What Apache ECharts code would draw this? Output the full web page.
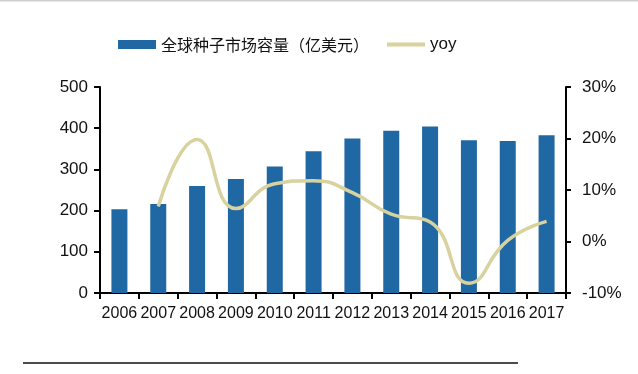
<!DOCTYPE html>
<html><head><meta charset="utf-8">
<script src="https://cdn.jsdelivr.net/npm/echarts@6/dist/echarts.min.js"></script>
<style>html,body{margin:0;padding:0;background:#fff}#c{width:638px;height:374px}</style>
</head><body><div id="c"></div>
<script>
const years = ['2006','2007','2008','2009','2010','2011','2012','2013','2014','2015','2016','2017'];
const marketSize = [203, 216, 260, 277, 307, 344, 375, 394, 404, 371, 369, 383];
const yoy = [null, 6.8, 19.8, 6.4, 11.2, 11.8, 9.5, 5.3, 3.8, -8.1, 0.2, 3.9];
const leftTicks = [0, 100, 200, 300, 400, 500];
const rightTicks = [-10, 0, 10, 20, 30];

const chart = echarts.init(document.getElementById('c'));
const fontAxis = '"Liberation Sans Narrow", "Liberation Sans", Arial, sans-serif';
chart.setOption({
  backgroundColor: '#fff',
  animation: false,
  legend: {
    top: 31, left: 113,
    itemWidth: 38, itemHeight: 9, itemGap: 18,
    textStyle: { fontSize: 16, color: '#111', fontFamily: '"Noto Sans CJK SC", sans-serif' },
    data: [
      { name: '全球种子市场容量（亿美元）', icon: 'rect' },
      { name: 'yoy', icon: 'path://M0,0 L40,0 L40,4 L0,4 Z', textStyle: { fontFamily: fontAxis, fontSize: 17 } }
    ]
  },
  grid: { left: 100, right: 72, top: 87, bottom: 81 },
  xAxis: {
    type: 'category', data: years,
    axisLine: { lineStyle: { color: '#000', width: 2 } },
    axisTick: { show: true, length: 6, lineStyle: { color: '#000', width: 2 } },
    axisLabel: { color: '#111', fontSize: 16, fontFamily: fontAxis, margin: 13, interval: 0 }
  },
  yAxis: [
    {
      type: 'value', min: 0, max: 500, interval: 100,
      splitLine: { show: false },
      axisLine: { show: true, lineStyle: { color: '#000', width: 2 } },
      axisTick: { show: true, length: 6, lineStyle: { color: '#000', width: 2 } },
      axisLabel: { color: '#111', fontSize: 17, fontFamily: fontAxis, margin: 12,
        formatter: v => leftTicks.includes(v) ? String(v) : '' }
    },
    {
      type: 'value', min: -10, max: 30, interval: 10,
      splitLine: { show: false },
      axisLine: { show: true, lineStyle: { color: '#000', width: 2 } },
      axisTick: { show: true, length: 5, lineStyle: { color: '#000', width: 2 } },
      axisLabel: { color: '#111', fontSize: 17, fontFamily: fontAxis, margin: 16,
        formatter: v => rightTicks.includes(v) ? v + '%' : '' }
    }
  ],
  series: [
    {
      name: '全球种子市场容量（亿美元）', type: 'bar', data: marketSize,
      barWidth: 16, itemStyle: { color: '#2068a3' }
    },
    {
      name: 'yoy', type: 'line', yAxisIndex: 1, data: yoy,
      smooth: 0.5, symbol: 'none',
      lineStyle: { color: '#d8d29e', width: 3.5 },
      itemStyle: { color: '#d8d29e' }
    }
  ],
  graphic: [
    { type: 'line', shape: { x1: 23, y1: 363, x2: 518, y2: 363 }, style: { stroke: '#111', lineWidth: 1.5 } },
    { type: 'line', shape: { x1: 0, y1: 0.5, x2: 638, y2: 0.5 }, style: { stroke: '#cfcfcf', lineWidth: 2 } }
  ]
});
</script></body></html>
